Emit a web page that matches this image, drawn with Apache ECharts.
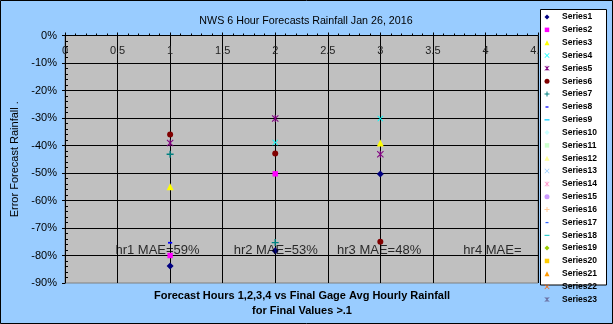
<!DOCTYPE html>
<html><head><meta charset="utf-8">
<script src="https://cdn.jsdelivr.net/npm/echarts@6/dist/echarts.min.js"></script>
<style>html,body{margin:0;padding:0;background:#99CCFF}#c{width:613px;height:324px}</style>
</head><body><div id="c"></div>
<script>
// ---- data ----
const hours = [1, 2, 3];
const series1 = [-83.8, -78.3, -50.4];
const series2 = [-80.0, -50.3, null];
const series3 = [-55.0, null, -39.1];
const series4 = [null, -38.9, -30.2];
const series5 = [-39.1, -30.2, -43.2];
const series6 = [-36.0, -42.9, -75.0];
const series7 = [-43.2, -75.3, null];
const series8 = [-75.3, null, null];
const seriesNames = [];
for (let i = 1; i <= 23; i++) seriesNames.push('Series' + i);
const seriesValues = [series1, series2, series3, series4, series5, series6, series7, series8];
const maeText = ['hr1 MAE=59%', 'hr2 MAE=53%', 'hr3 MAE=48%', 'hr4 MAE='];
const maeX = [0.48, 1.605, 2.588, 3.79];
const maeY = [-78.2, -78.2, -78.2, -78.2];
const titleText = 'NWS 6 Hour Forecasts Rainfall Jan 26, 2016';
const xName1 = 'Forecast Hours 1,2,3,4 vs Final Gage Avg Hourly Rainfall';
const xName2 = 'for Final Values >.1';
const yName = 'Error Forecast Rainfall .';

// ---- styles ----
const FONT = 'Arial, "Liberation Sans", sans-serif';
const palette = ['#000080','#FF00FF','#FFFF00','#00FFFF','#800080','#800000','#008080','#0000FF',
  '#00CCFF','#CCFFFF','#CCFFCC','#FFFF99','#99CCFF','#FF99CC','#CC99FF','#FFCC99','#3366FF',
  '#33CCCC','#99CC00','#FFCC00','#FF9900','#FF6600','#666699'];
const SQ = 'M0,0L0,0M10,10L10,10';
const shapes = [
  {p: 'path://M5,0L10,5L5,10L0,5Z', s: 7},
  {p: 'path://M0.5,0.5H9.5V9.5H0.5Z' + SQ, s: 6},
  {p: 'path://M5,0L10,10H0Z', s: 7},
  {p: 'path://M0,1L1,0L5,4L9,0L10,1L6,5L10,9L9,10L5,6L1,10L0,9L4,5Z', s: 6},
  {p: 'path://M0,1L1,0L5,4L9,0L10,1L6,5L10,9L9,10L5,6L1,10L0,9L4,5ZM4.2,0H5.8V10H4.2Z', s: 7},
  {p: 'path://M0,5A5,5,0,1,1,10,5A5,5,0,1,1,0,5Z', s: 6},
  {p: 'path://M4,0H6V4H10V6H6V10H4V6H0V4H4Z', s: 7},
  {p: 'path://' + SQ + 'M2,4H8V6.5H2Z', s: 7},
  {p: 'path://' + SQ + 'M0,4H10V6.5H0Z', s: 8}
];

const series = seriesNames.map((name, i) => {
  const vals = seriesValues[i] || [];
  const data = [];
  vals.forEach((v, k) => { if (v !== null && v !== undefined) data.push([hours[k], v]); });
  const sh = shapes[i % 9];
  return {
    name: name, type: 'scatter', data: data,
    symbol: sh.p, symbolSize: sh.s,
    itemStyle: {color: palette[i], opacity: 1},
    emphasis: {disabled: true},
    z: 3
  };
});
series.push({
  name: 'mae', type: 'scatter', symbolSize: 0, silent: true, z: 4,
  data: maeX.map((x, i) => [x, maeY[i]]),
  label: {show: true, position: 'right', distance: 0, formatter: p => maeText[p.dataIndex],
    fontFamily: FONT, fontSize: 13, color: '#000'}
});

const chart = echarts.init(document.getElementById('c'), null, {renderer: 'canvas'});
chart.setOption({
  backgroundColor: '#99CCFF',
  animation: false,
  grid: {left: 65, top: 35.5, right: 75, bottom: 41, show: true, backgroundColor: '#C0C0C0',
    borderColor: '#808080', borderWidth: 1, containLabel: false},
  xAxis: {
    type: 'value', position: 'top', min: 0, max: 4.5, interval: 0.5,
    axisLine: {show: true, onZero: false, lineStyle: {color: '#000', width: 1}},
    axisTick: {show: true, inside: false, length: 3, lineStyle: {color: '#000'}},
    minorTick: {show: true, splitNumber: 5, length: 2, lineStyle: {color: '#000'}},
    axisLabel: {inside: true, margin: 10, fontFamily: FONT, fontSize: 11, color: '#222',
      formatter: v => String(v)},
    splitLine: {show: true, lineStyle: {color: '#000', width: 1}}
  },
  yAxis: [{
    type: 'value', min: -90, max: 0, interval: 10,
    name: yName, nameLocation: 'middle', nameGap: 42, nameRotate: 90,
    nameTextStyle: {fontFamily: FONT, fontSize: 11, color: '#000'},
    axisLine: {show: true, onZero: false, lineStyle: {color: '#000', width: 1}},
    axisTick: {show: true, inside: false, length: 3, lineStyle: {color: '#000'}},
    axisLabel: {margin: 8, fontFamily: FONT, fontSize: 11, color: '#000', formatter: '{value}%'},
    splitLine: {show: true, showMinLine: false, lineStyle: {color: '#000', width: 1}}
  }, {
    type: 'value', min: -90, max: 0, interval: 10, position: 'left',
    axisLine: {show: false}, axisLabel: {show: false}, splitLine: {show: false},
    axisTick: {show: false, inside: true},
    minorTick: {show: true, splitNumber: 5, length: 3, lineStyle: {color: '#000'}}
  }],
  legend: {
    orient: 'vertical', left: 544.5, top: 12.5, padding: 0,
    itemWidth: 20, itemHeight: 5, itemGap: 3.84, symbolKeepAspect: true,
    selectedMode: false, z: 6,
    data: seriesNames,
    textStyle: {fontFamily: FONT, fontSize: 8.5, fontWeight: 'bold', color: '#000', lineHeight: 8}
  },
  graphic: [
    {type: 'rect', z: 5, shape: {x: 540.5, y: 9.5, width: 66, height: 275.5},
      style: {fill: '#fff', stroke: '#000', lineWidth: 1}},
    {type: 'rect', z: 5, shape: {x: 0.5, y: 0.5, width: 612, height: 323},
      style: {fill: 'none', stroke: '#000', lineWidth: 1}},
    {type: 'text', z: 5, x: 306, y: 20.7, style: {text: titleText, font: '10.7px ' + FONT,
      fill: '#000', textAlign: 'center', textVerticalAlign: 'middle'}},
    {type: 'text', z: 5, x: 302, y: 296, style: {text: xName1, font: 'bold 11px ' + FONT,
      fill: '#000', textAlign: 'center', textVerticalAlign: 'middle'}},
    {type: 'text', z: 5, x: 302, y: 311, style: {text: xName2, font: 'bold 11px ' + FONT,
      fill: '#000', textAlign: 'center', textVerticalAlign: 'middle'}}
  ],
  series: series
});
</script></body></html>
